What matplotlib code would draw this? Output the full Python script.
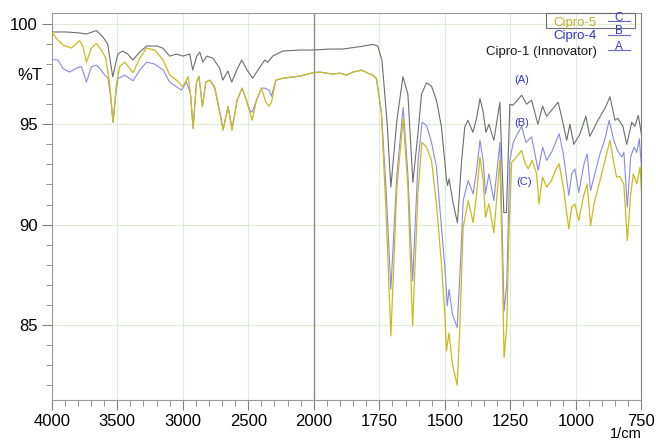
import numpy as np
import matplotlib
matplotlib.use("Agg")
import matplotlib.pyplot as plt
from matplotlib.ticker import FixedLocator

plt.rcParams['font.family'] = ['Liberation Sans', 'DejaVu Sans']

# wavenumber (1/cm) and %T
wn_a = [4000, 3888, 3786, 3735, 3659, 3611, 3573, 3534, 3496, 3458, 3420, 3382, 3328, 3275, 3198,
        3153, 3099, 3046, 3000, 2947, 2924, 2893, 2870, 2847, 2817, 2771, 2718, 2695, 2656, 2626,
        2588, 2550, 2504, 2466, 2427, 2374, 2351, 2313, 2237, 2107, 2008, 1939, 1889, 1824, 1775,
        1756, 1740, 1721, 1706, 1683, 1660, 1641, 1622, 1603, 1589, 1570, 1551, 1532, 1513, 1494,
        1490, 1484, 1468, 1452, 1436, 1424, 1412, 1393, 1379, 1366, 1355, 1343, 1332, 1313, 1290,
        1282, 1275, 1265, 1252, 1240, 1207, 1188, 1169, 1145, 1127, 1112, 1093, 1068, 1055, 1035,
        1023, 1008, 985, 962, 947, 935, 916, 889, 870, 851, 840, 821, 806, 787, 775, 762, 750]
t_a = [99.6, 99.6, 99.55, 99.5, 99.67, 99.37, 99.0, 97.37, 98.5, 98.65, 98.5, 98.2, 98.6, 98.9, 98.9,
       98.8, 98.4, 98.5, 98.4, 98.5, 97.7, 98.4, 98.6, 98.1, 98.4, 98.3, 97.8, 97.2, 97.65, 97.1,
       97.7, 98.2, 97.65, 97.3, 97.7, 98.2, 98.1, 98.4, 98.65, 98.7, 98.7, 98.75, 98.75, 98.87, 98.98,
       98.9, 98.2, 95.2, 91.87, 95.2, 97.37, 96.5, 92.1, 94.5, 96.5, 97.07, 96.9, 96.2, 94.87, 92.28,
       91.95, 92.28, 91.03, 90.1, 93.2, 94.87, 95.2, 94.6, 95.3, 96.28, 95.7, 94.6, 95.0, 94.2, 96.1,
       93.0, 90.6, 90.6, 96.0, 95.95, 96.45, 96.0, 96.2, 95.0, 95.9, 95.4, 95.7, 96.1, 95.4, 94.2,
       95.0, 94.0, 94.5, 95.4, 94.4, 94.7, 95.2, 95.8, 96.37, 95.2, 95.3, 94.9, 94.0, 95.1, 94.9, 95.45, 94.5]

wn_b = [4000, 3952, 3914, 3863, 3811, 3773, 3735, 3697, 3659, 3634, 3595, 3570, 3553, 3532, 3506,
        3494, 3443, 3379, 3328, 3277, 3214, 3150, 3099, 3048, 3010, 2972, 2941, 2921, 2895, 2876,
        2850, 2824, 2794, 2756, 2717, 2692, 2654, 2624, 2585, 2547, 2514, 2488, 2471, 2437, 2399,
        2374, 2359, 2341, 2323, 2290, 2234, 2107, 2005, 1977, 1927, 1901, 1875, 1851, 1818, 1794,
        1775, 1761, 1742, 1723, 1706, 1683, 1659, 1641, 1623, 1602, 1587, 1570, 1551, 1532, 1513,
        1497, 1491, 1484, 1471, 1453, 1440, 1430, 1411, 1392, 1379, 1366, 1354, 1345, 1332, 1313,
        1290, 1281, 1274, 1264, 1252, 1239, 1226, 1207, 1191, 1169, 1144, 1127, 1112, 1093, 1064,
        1048, 1027, 1016, 1004, 989, 969, 957, 944, 931, 908, 889, 873, 857, 842, 825, 817, 804,
        791, 778, 768, 758, 750]
t_b = [98.23, 98.2, 97.78, 97.6, 97.8, 97.87, 97.1, 97.87, 97.95, 97.8, 97.45, 97.3, 96.5, 95.1, 96.8,
       97.28, 97.45, 97.17, 97.7, 98.1, 98.0, 97.7, 97.1, 96.87, 96.7, 97.1, 96.53, 94.8, 97.1, 97.4,
       95.9, 97.1, 97.2, 96.85, 95.6, 94.75, 95.9, 94.8, 96.2, 96.8, 96.2, 95.7, 95.6, 96.2, 96.8,
       96.8, 96.75, 96.7, 96.4, 97.2, 97.3, 97.4, 97.57, 97.6, 97.5, 97.55, 97.45, 97.6, 97.7, 97.55,
       97.45, 97.28, 95.6, 91.5, 86.78, 92.5, 95.83, 92.5, 87.2, 93.2, 95.1, 94.95, 94.1, 92.87, 89.87,
       87.37, 85.95, 86.78, 85.53, 84.87, 88.2, 91.2, 92.2, 91.53, 92.7, 94.2, 93.2, 91.53, 92.53, 91.2,
       94.1, 89.53, 85.7, 87.0, 93.2, 94.1, 94.45, 94.9, 94.1, 94.37, 92.7, 93.87, 93.2, 93.6, 94.53,
       93.53, 91.45, 92.53, 92.78, 91.6, 93.03, 93.53, 91.7, 92.37, 93.53, 94.28, 95.2, 94.28, 93.7, 93.37, 93.6, 90.87,
       93.37, 93.87, 93.6, 94.28, 92.87]

wn_c = [4000, 3964, 3914, 3850, 3786, 3761, 3735, 3697, 3659, 3621, 3588, 3557, 3532, 3506, 3481,
        3443, 3379, 3328, 3277, 3214, 3150, 3099, 3048, 2998, 2959, 2941, 2921, 2895, 2876, 2850,
        2824, 2794, 2756, 2717, 2692, 2654, 2624, 2585, 2547, 2514, 2471, 2437, 2399, 2366, 2341,
        2323, 2290, 2234, 2107, 2005, 1977, 1927, 1901, 1875, 1851, 1818, 1794, 1775, 1761, 1742,
        1723, 1706, 1683, 1659, 1641, 1623, 1603, 1588, 1570, 1551, 1532, 1513, 1500, 1494, 1484,
        1471, 1453, 1443, 1430, 1411, 1392, 1379, 1366, 1354, 1345, 1332, 1313, 1290, 1281, 1274,
        1264, 1255, 1245, 1226, 1207, 1195, 1182, 1167, 1150, 1141, 1127, 1112, 1093, 1076, 1064,
        1048, 1027, 1016, 1004, 989, 972, 957, 944, 931, 908, 889, 870, 857, 845, 832, 817, 804,
        791, 781, 768, 755, 750]
t_c = [99.6, 99.28, 98.95, 98.8, 99.17, 98.87, 98.1, 98.8, 99.03, 98.7, 98.3, 97.0, 95.1, 97.0, 97.87,
       98.1, 97.57, 98.3, 98.8, 98.7, 98.2, 97.45, 97.2, 96.87, 97.37, 96.53, 94.78, 97.1, 97.37, 95.87,
       97.1, 97.2, 96.8, 95.53, 94.7, 95.87, 94.7, 96.2, 96.8, 96.2, 95.2, 96.2, 96.8, 96.1, 95.9,
       96.1, 97.2, 97.3, 97.4, 97.57, 97.6, 97.5, 97.55, 97.45, 97.6, 97.7, 97.55, 97.45, 97.28, 95.53,
       90.2, 84.45, 91.87, 95.28, 91.87, 84.95, 91.5, 94.1, 93.87, 93.2, 91.03, 88.03, 85.5, 83.7, 84.6,
       83.03, 82.0, 84.87, 89.87, 91.2, 90.1, 91.53, 93.37, 92.2, 90.37, 91.03, 89.6, 93.2, 88.2, 83.37,
       84.87, 89.87, 93.1, 93.37, 93.7, 93.1, 92.78, 93.2, 92.53, 91.03, 92.37, 91.87, 92.2, 92.78, 93.03,
       91.87, 89.78, 90.87, 91.03, 90.2, 91.37, 92.03, 89.95, 91.03, 92.2, 93.2, 94.2, 93.2, 92.37, 92.4, 92.0, 89.2,
       91.53, 92.53, 92.03, 92.87, 91.7]

x_major = [4000, 3500, 3000, 2500, 2000, 1750, 1500, 1250, 1000, 750]
y_major = [85, 90, 95, 100]


def fwd(x):
    x = np.asarray(x, dtype=float)
    return np.where(x >= 2000, (x - 2000) / 500.0, (x - 2000) / 250.0)


def inv(u):
    u = np.asarray(u, dtype=float)
    return np.where(u >= 0, 2000 + 500.0 * u, 2000 + 250.0 * u)


fig = plt.figure(figsize=(6.56, 4.41), dpi=100)
ax = fig.add_axes([0.0788, 0.093, 0.899, 0.8768])
ax.set_xscale('function', functions=(fwd, inv))

ax.plot(wn_a, t_a, color='#6e6e6e', lw=0.8, zorder=3)
ax.plot(wn_b, t_b, color='#8a8ae6', lw=0.8, zorder=4)
ax.plot(wn_c, t_c, color='#c8bc1e', lw=0.9, zorder=5)

ax.set_xlim(4000, 750)
ax.set_ylim(81.26, 100.53)

ax.xaxis.set_major_locator(FixedLocator(x_major))
ax.xaxis.set_minor_locator(FixedLocator(list(range(3900, 2000, -100)) + list(range(1950, 750, -50))))
ax.yaxis.set_major_locator(FixedLocator(y_major))
ax.yaxis.set_minor_locator(FixedLocator([v for v in range(82, 101) if v % 5]))
ax.set_xticklabels([str(v) for v in x_major])
ax.set_yticklabels([str(v) for v in y_major])

ax.grid(True, which='major', color='#dcefd6', lw=0.8, zorder=0)
ax.axvline(2000, color='#8c8c8c', lw=1.0, zorder=2)
for s in ax.spines.values():
    s.set_color('#9a9a9a')
ax.spines['right'].set_color('#808080')
ax.tick_params(which='major', length=7, color='#808080', labelsize=12, direction='out', pad=3)
ax.tick_params(which='minor', length=4, color='#808080', direction='out')

fig.text(30 / 656, 1 - 75 / 441, '%T', fontsize=12, ha='center', va='center')
fig.text(626 / 656, 1 - 434 / 441, '1/cm', fontsize=10.5, ha='center', va='center')

# legend drawn as in the instrument software
leg = [('Cipro-5', '#c0b030', 'C', 22.7), ('Cipro-4', '#3333cc', 'B', 36.5), ('Cipro-1 (Innovator)', '#1a1a1a', 'A', 51.5)]
for name, col, letter, yp in leg:
    fig.text(597 / 656, 1 - yp / 441, name, fontsize=9.5, color=col, ha='right', va='center')
    fig.text(619 / 656, 1 - (yp - 5) / 441, letter, fontsize=8.5, color='#3333cc', ha='center', va='center')
    fig.lines.append(plt.Line2D([608 / 656, 630 / 656], [1 - (yp - 2) / 441] * 2, transform=fig.transFigure,
                                color='#6666cc', lw=0.8))
fig.patches.append(plt.Rectangle((546 / 656, 1 - 28 / 441), 89 / 656, 15 / 441, transform=fig.transFigure,
                                 fill=False, ec='#707070', lw=0.8))

for lab, xp, yp in [('(A)', 522, 80), ('(B)', 522, 122.7), ('(C)', 524, 181.7)]:
    fig.text(xp / 656, 1 - yp / 441, lab, fontsize=8, color='#3333cc', ha='center', va='center')

fig.savefig('out.png', dpi=100)
